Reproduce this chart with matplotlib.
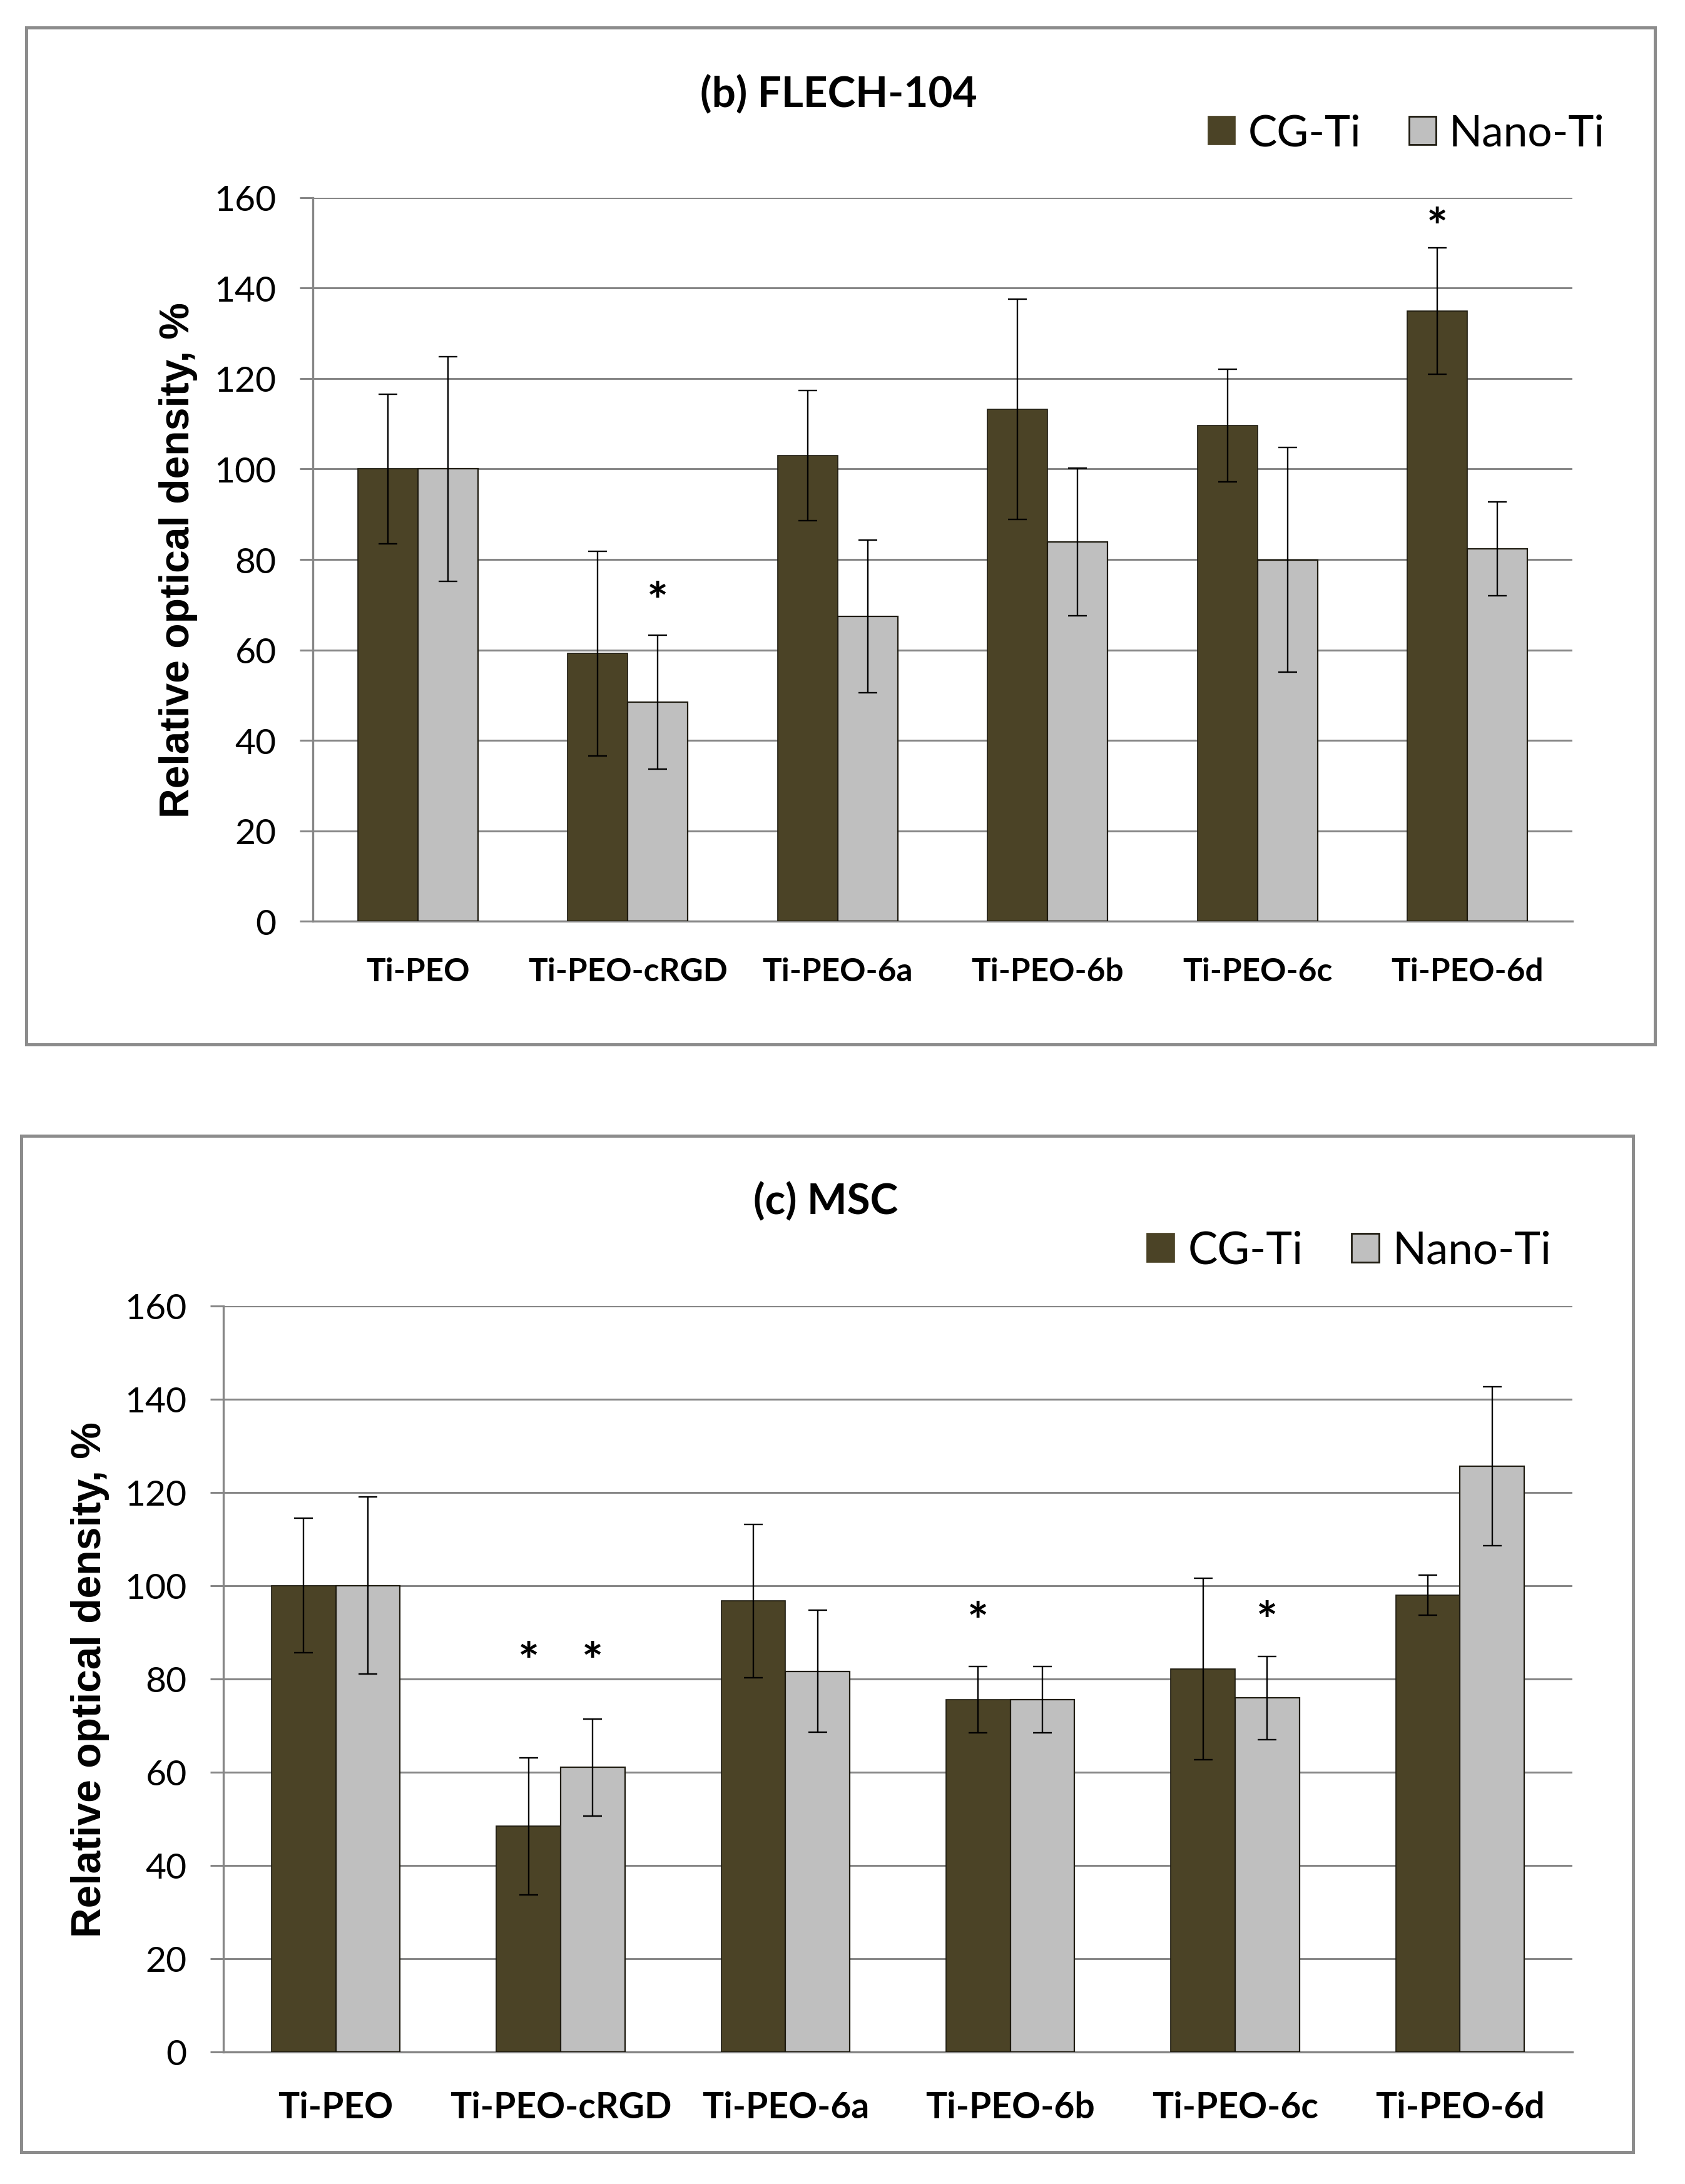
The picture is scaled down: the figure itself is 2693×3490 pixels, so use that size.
import matplotlib
matplotlib.use("Agg")
import matplotlib.pyplot as plt
from matplotlib.patches import Rectangle, Patch
import numpy as np

# ---------------- data ----------------
categories = ['Ti-PEO', 'Ti-PEO-cRGD', 'Ti-PEO-6a', 'Ti-PEO-6b', 'Ti-PEO-6c', 'Ti-PEO-6d']
series_names = ['CG-Ti', 'Nano-Ti']

b_title = '(b) FLECH-104'
b_cg = [100, 59.2, 103.0, 113.2, 109.6, 134.9]
b_cg_err = [16.5, 22.6, 14.4, 24.4, 12.4, 14.0]
b_nano = [100, 48.5, 67.4, 83.9, 79.9, 82.4]
b_nano_err = [24.8, 14.8, 16.9, 16.3, 24.8, 10.4]
b_star_cat = [1, 5]
b_star_series = [1, 0]
b_star_y = [73.5, 156.2]

c_title = '(c) MSC'
c_cg = [100, 48.4, 96.7, 75.5, 82.1, 97.9]
c_cg_err = [14.4, 14.7, 16.4, 7.1, 19.5, 4.3]
c_nano = [100, 61.0, 81.6, 75.5, 75.9, 125.6]
c_nano_err = [19.0, 10.4, 13.1, 7.1, 8.9, 17.0]
c_star_cat = [1, 1, 3, 4]
c_star_series = [0, 1, 0, 1]
c_star_y = [86.4, 86.4, 95.0, 95.2]

y_ticks = [0, 20, 40, 60, 80, 100, 120, 140, 160]
y_label = 'Relative optical density, %'

# ---------------- style ----------------
W, H = 2693, 3491
DPI = 100
CG_COL = '#4B4326'
NANO_COL = '#BFBFBF'
EDGE = '#1E1B10'
GRID = '#878787'
FRAME = '#8C8C8C'
SANS = ['Lato', 'DejaVu Sans']
LABEL_FONT = ['Liberation Sans', 'DejaVu Sans']
BAR_W = 0.286

fig = plt.figure(figsize=(W / DPI, H / DPI), dpi=DPI)
fig.patch.set_facecolor('white')


def fx(px):
    return px / W


def fy(py):
    return 1 - py / H


def panel(rect_px, frame_px, title, title_xy, legend_xy, legend_size, cg, cg_err, nano, nano_err,
          star_cat, star_series, star_y, cat_size, cat_pad, ylabel_x):
    l, t, r, b = rect_px
    ax = fig.add_axes([fx(l), fy(b), fx(r - l), (b - t) / H])
    x = np.arange(len(categories))
    offs = [-BAR_W / 2, BAR_W / 2]
    ax.bar(x + offs[0], cg, width=BAR_W, color=CG_COL, edgecolor=EDGE, linewidth=1.2,
           label=series_names[0], zorder=3)
    ax.bar(x + offs[1], nano, width=BAR_W, color=NANO_COL, edgecolor=EDGE, linewidth=1.6,
           label=series_names[1], zorder=3)
    for vals, errs, off in ((cg, cg_err, offs[0]), (nano, nano_err, offs[1])):
        ax.errorbar(x + off, vals, yerr=errs, fmt='none', ecolor='black',
                    elinewidth=1.7, capsize=11, capthick=1.7, zorder=4)
    for ci, si, yv in zip(star_cat, star_series, star_y):
        ax.annotate('*', xy=(ci + offs[si], yv), xytext=(0, -17.5), textcoords='offset points',
                    ha='center', va='center', fontsize=58, fontweight='bold',
                    family=SANS, color='black', zorder=5)
    ax.set_xlim(-0.5, len(categories) - 0.5)
    ax.set_ylim(y_ticks[0], y_ticks[-1])
    ax.set_yticks(y_ticks)
    ax.set_yticklabels([str(v) for v in y_ticks], fontsize=41, family=SANS)
    ax.set_xticks(x)
    ax.set_xticklabels(categories, fontsize=cat_size, fontweight='bold', family=SANS)
    ax.tick_params(axis='x', length=0, pad=cat_pad)
    ax.tick_params(axis='y', length=15, width=2.2, color=GRID, direction='out', pad=27)
    ax.yaxis.grid(True, color=GRID, linewidth=2.2)
    ax.set_axisbelow(True)
    for s in ('top', 'right'):
        ax.spines[s].set_visible(False)
    for s in ('left', 'bottom'):
        ax.spines[s].set_color(GRID)
        ax.spines[s].set_linewidth(2.4)
    ax.set_ylabel(y_label, fontsize=47.5, fontweight='bold', family=LABEL_FONT)
    ax.yaxis.label.set_verticalalignment('center')
    ax.yaxis.set_label_coords((ylabel_x - l) / (r - l), 0.5)

    fig.text(fx(title_xy[0]), fy(title_xy[1]), title, ha='center', va='center',
             fontsize=48.5, fontweight='bold', family=SANS)
    handles = [Patch(facecolor=CG_COL, edgecolor=CG_COL, linewidth=1.2),
               Patch(facecolor=NANO_COL, edgecolor=EDGE, linewidth=2.0)]
    fig.legend(handles, series_names, loc='center left',
               bbox_to_anchor=(fx(legend_xy[0]), fy(legend_xy[1])),
               ncol=2, frameon=False, borderpad=0, borderaxespad=0,
               handlelength=0.62, handleheight=0.62, handletextpad=0.3,
               columnspacing=1.1, prop={'family': SANS, 'size': legend_size})

    fl, ft, fr, fb = frame_px
    fig.add_artist(Rectangle((fx(fl), fy(fb)), fx(fr - fl), (fb - ft) / H,
                             transform=fig.transFigure, fill=False,
                             edgecolor=FRAME, linewidth=3.6))
    return ax


panel((500, 316.7, 2513, 1473.4), (42, 45, 2645, 1670), b_title, (1340, 152), (1931, 214), 50,
      b_cg, b_cg_err, b_nano, b_nano_err, b_star_cat, b_star_series, b_star_y,
      cat_size=37, cat_pad=41, ylabel_x=285)
panel((357, 2087.5, 2513, 3280), (34, 1816, 2610, 3440), c_title, (1320, 1921), (1833, 1999), 51,
      c_cg, c_cg_err, c_nano, c_nano_err, c_star_cat, c_star_series, c_star_y,
      cat_size=41, cat_pad=44.6, ylabel_x=144)

fig.savefig('out.png', dpi=DPI, facecolor='white')
